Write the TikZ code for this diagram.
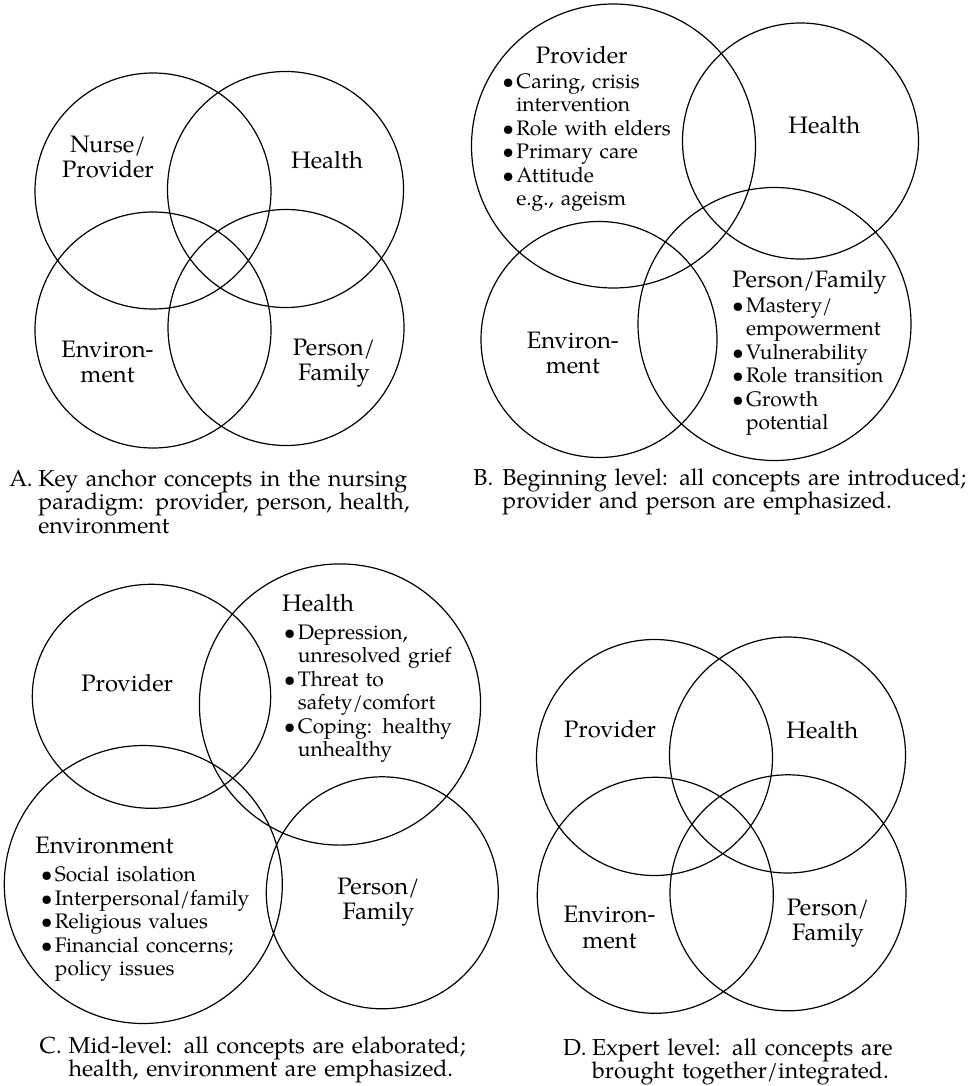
\documentclass[tikz,border=0pt]{standalone}
\usepackage{fontspec}
\setmainfont{TeX Gyre Pagella}
\newcommand{\bl}{\makebox[7pt][l]{\textbullet}}
\newcommand{\ind}{\hspace*{7pt}}
\newcommand{\capt}[1]{\makebox[14.5pt][l]{#1}}
\newcommand{\hang}{\hspace*{14.5pt}}

\begin{document}
\begin{tikzpicture}[x=0.5pt,y=-0.5pt,
    ring/.style={line width=0.6pt},
    lbl/.style={font=\fontsize{11.9}{12.8}\selectfont, inner sep=0pt, align=center, text width=100pt, anchor=base},
    lst/.style={font=\fontsize{10.5}{11.75}\selectfont, inner sep=0pt, align=left, text width=120pt, anchor=base west},
    hdr/.style={lst, font=\fontsize{11.9}{12.8}\selectfont},
    captxt/.style={lst, font=\fontsize{11.55}{11.75}\selectfont, text width=260pt}]
  \useasboundingbox (0,0) rectangle (971,1086);

  \draw[ring] (153,191) circle (118) (285.5,189.5) circle (118)
              (153,330) circle (118) (286,327.5) circle (118);
  \node[lbl] (aProv) at (108,152) {Nurse/\\Provider};
  \node[lbl] (aHealth) at (327,169) {Health};
  \node[lbl] (aEnv) at (107.5,357) {Environ-\\ment};
  \node[lbl] (aPers) at (334,355) {Person/\\Family};
  \node[captxt] (aCap) at (9,486) {\capt{A.}Key anchor concepts in the nursing\\
    \hang paradigm: provider, person, health,\\ \hang environment};

  \draw[ring] (613.5,146) circle (142) (800.5,141) circle (118)
              (599,339.5) circle (118) (774.5,324) circle (136.5);
  \node[lbl] (bProv) at (581.7,63.3) {Provider};
  \node[lst] (bProvList) at (502,88.3) {\bl Caring, crisis\\ \ind intervention\\
    \bl Role with elders\\ \bl Primary care\\ \bl Attitude\\ \ind e.g., ageism};
  \node[lbl] (bHealth) at (824.3,133.3) {Health};
  \node[lbl] (bEnv) at (572.8,348.3) {Environ-\\ment};
  \node[lbl] (bPers) at (809.5,287.3) {Person/Family};
  \node[lst] (bPersList) at (731.7,312.3) {\bl Mastery/\\ \ind empowerment\\
    \bl Vulnerability\\ \bl Role transition\\ \bl Growth\\ \ind potential};
  \node[captxt] (bCap) at (473,485) {\capt{B.}Beginning level: all concepts are introduced;\\
    \hang provider and person are emphasized.};

  \draw[ring] (151.5,696.3) ellipse (119.2 and 112) (340,704.5) circle (140.6)
              (143.3,884.5) circle (139) (382.3,892.8) circle (116);
  \node[lbl] (cProv) at (127.2,691) {Provider};
  \node[hdr] (cHealth) at (281.7,611) {Health};
  \node[lst] (cHealthList) at (283.5,639) {\bl Depression,\\ \ind unresolved grief\\
    \bl Threat to\\ \ind safety/comfort\\ \bl Coping: healthy\\ \ind unhealthy};
  \node[hdr] (cEnv) at (35,853.3) {Environment};
  \node[lst] (cEnvList) at (40.5,881.7) {\bl Social isolation\\ \bl Interpersonal/family\\
    \bl Religious values\\ \bl Financial concerns;\\ \ind policy issues};
  \node[lbl] (cPers) at (378.5,894.3) {Person/\\Family};
  \node[captxt] (cCap) at (39.3,1053.3) {\capt{C.}Mid-level: all concepts are elaborated;\\
    \hang health, environment are emphasized.};

  \draw[ring] (654.5,757.5) circle (118) (787.5,755) circle (118)
              (655.3,895.3) circle (118) (788,892.8) circle (118);
  \node[lbl] (dProv) at (610,737.3) {Provider};
  \node[lbl] (dHealth) at (822.3,738.3) {Health};
  \node[lbl] (dEnv) at (609.5,922.7) {Environ-\\ment};
  \node[lbl] (dPers) at (828,915) {Person/\\Family};
  \node[captxt] (dCap) at (562.7,1055) {\capt{D.}Expert level: all concepts are\\
    \hang brought together/integrated.};
\end{tikzpicture}
\end{document}
